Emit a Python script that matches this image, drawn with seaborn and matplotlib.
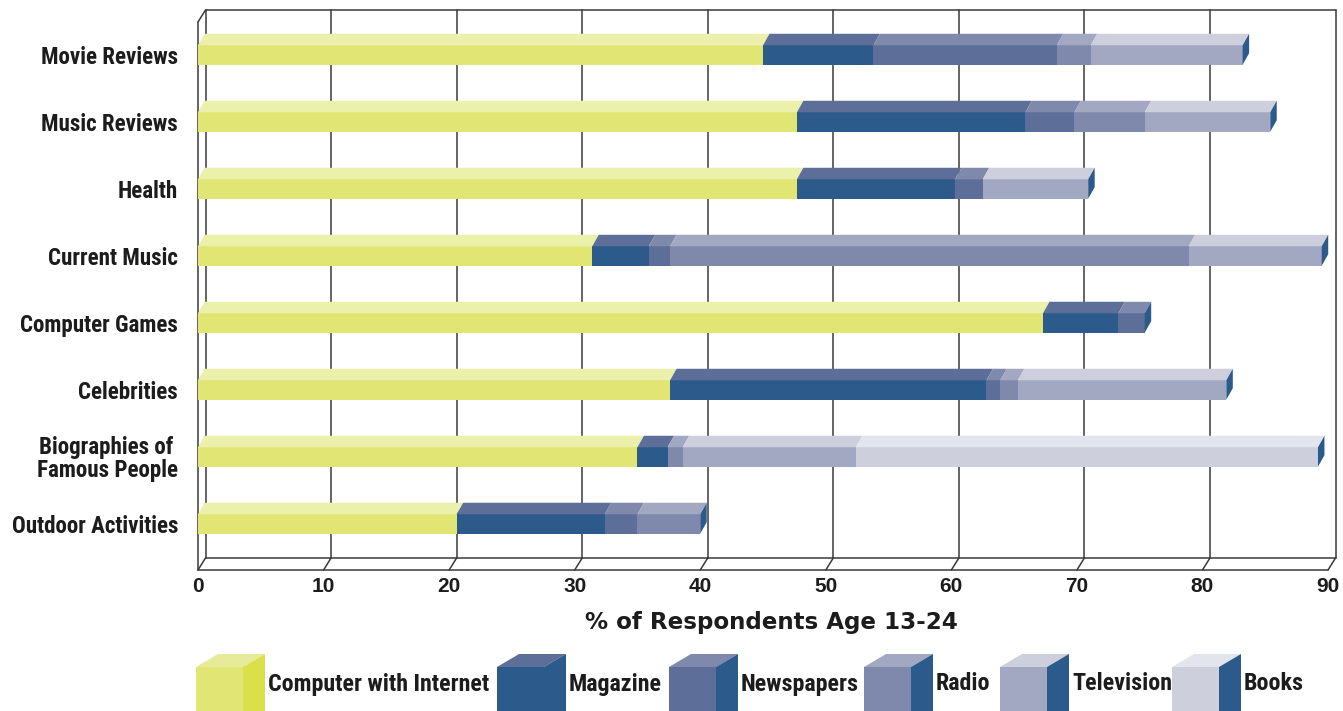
import numpy as np
import pandas as pd
import matplotlib
matplotlib.use("Agg")
import matplotlib.pyplot as plt
import seaborn as sns
from matplotlib.patches import Polygon
from matplotlib.lines import Line2D
from matplotlib import font_manager as fm

# ---------------- data ----------------
categories = ["Movie Reviews", "Music Reviews", "Health", "Current Music",
              "Computer Games", "Celebrities", "Biographies of \nFamous People",
              "Outdoor Activities"]
series_names = ["Computer with Internet", "Magazine", "Newspapers", "Radio",
                "Television", "Books"]
internet   = [45.0, 47.7, 47.7, 31.4, 67.3, 37.6, 35.0, 20.6]
magazine   = [8.8, 18.2, 12.6, 4.5, 6.0, 25.2, 2.4, 11.8]
newspapers = [14.6, 3.9, 2.2, 1.7, 2.1, 1.1, 0.0, 2.6]
radio      = [2.7, 5.6, 0.0, 41.3, 0.0, 1.4, 1.2, 5.0]
television = [12.1, 10.0, 8.4, 10.6, 0.0, 16.6, 13.8, 0.0]
books      = [0.0, 0.0, 0.0, 0.0, 0.0, 0.0, 36.8, 0.0]
xticks = [0, 10, 20, 30, 40, 50, 60, 70, 80, 90]
xlabel = "% of Respondents Age 13-24"

# ---------------- styles ----------------
front_colors = ["#e1e573", "#2c5a8a", "#5d6f98", "#7f89ab", "#a2a7c2", "#cdcfdd"]
top_colors   = ["#ebf0ab", "#5d6f98", "#7f89ab", "#a2a7c2", "#cdcfdd", "#e2e5ee"]
cap_color = "#2c5a8a"
legend_side = ["#d9e04a", cap_color, cap_color, cap_color, cap_color, cap_color]
legend_top = ["#e6eb9a", "#5d6f98", "#7f89ab", "#a2a7c2", "#cdcfdd", "#e2e5ee"]
text_color = "#1c1c1c"
line_color = "#3a3a3a"

# pick a narrow bold font if one is installed
def _is_condensed(f):
    s = f.stretch
    if isinstance(s, str):
        return "condensed" in s
    try:
        return int(s) < 500
    except Exception:
        return False

names = {f.name for f in fm.fontManager.ttflist}
NARROW_FAMILY, NARROW_STRETCH = "Liberation Sans", "normal"
for cand in ["Liberation Sans Narrow", "Roboto Condensed", "Open Sans Condensed",
             "Noto Sans Condensed"]:
    if cand in names:
        NARROW_FAMILY = cand
        break
else:
    others = sorted(n for n in names if ("Condensed" in n or "Narrow" in n))
    if others:
        NARROW_FAMILY = others[0]
    else:
        cf = [f for f in fm.fontManager.ttflist if _is_condensed(f)]
        if cf:
            NARROW_FAMILY, NARROW_STRETCH = cf[0].name, "condensed"

sns.set_style("white")
plt.rcParams["font.family"] = [NARROW_FAMILY, "DejaVu Sans"]

W, H = 1343, 711
fig = plt.figure(figsize=(W / 100, H / 100), dpi=100)
renderer = fig.canvas.get_renderer()

def fit_size(text, target_px, base, limit, **kw):
    t = fig.text(0, 0, text, fontsize=base, **kw)
    w = t.get_window_extent(renderer).width
    t.remove()
    return min(limit, base * target_px / w)

NKW = dict(family=[NARROW_FAMILY, "DejaVu Sans"], fontstretch=NARROW_STRETCH,
           fontweight="bold")
cat_size = fit_size("Movie Reviews", 137, 16, 17, **NKW)
leg_size = fit_size("Computer with Internet", 221, 16.5, 17.5, **NKW)
tick_size = fit_size("10", 23, 14.5, 15.5, family=["Liberation Sans", "DejaVu Sans"],
                     fontweight="bold")
title_size = fit_size(xlabel, 373, 16, 17, family=["DejaVu Sans"], fontweight="heavy")

ax = fig.add_axes([198 / W, (H - 570) / H, 1130 / W, 548 / H])

values = np.array([internet, magazine, newspapers, radio, television, books]).T
cum = np.cumsum(values, axis=1)

BAR_W = 0.29
for i in reversed(range(len(series_names))):
    df = pd.DataFrame({"category": categories, "value": cum[:, i]})
    sns.barplot(data=df, x="value", y="category", orient="h", color=front_colors[i],
                saturation=1, width=BAR_W, errorbar=None, linewidth=0, ax=ax,
                zorder=1)

ax.set_xlim(0, 90)
y_bottom, y_top = 7.687, -0.4925
ax.set_ylim(y_bottom, y_top)
for s in ax.spines.values():
    s.set_visible(False)
ax.set_xlabel("")
ax.set_ylabel("")
ax.grid(False)

# pixel -> data conversion for 3D depth
p0 = ax.transData.transform((0, 0))
p1 = ax.transData.transform((1, 1))
sx = p1[0] - p0[0]
sy = p0[1] - p1[1]
bdx, bdy = 6.5 / sx, 11.5 / sy   # bar depth
wdx, wdy = 7.5 / sx, 12.0 / sy   # wall depth

# ---------------- 3D frame ----------------
def line(xs, ys, z=0.5):
    ax.add_line(Line2D(xs, ys, color=line_color, lw=1.1, zorder=z, clip_on=False))

for t in xticks:
    line([t + wdx, t + wdx], [y_bottom - wdy, y_top - wdy])          # back wall grid
    line([t, t + wdx], [y_bottom, y_bottom - wdy])                    # floor ticks
line([wdx, 90 + wdx], [y_bottom - wdy, y_bottom - wdy])               # back floor
line([wdx, 90 + wdx], [y_top - wdy, y_top - wdy])                     # top edge
line([0, 90], [y_bottom, y_bottom])                                   # front floor
line([0, 0], [y_bottom, y_top])                                       # left front
line([0, wdx], [y_top, y_top - wdy])                                  # left top link

# ---------------- bar tops and caps ----------------
for j in range(len(categories)):
    ytop = j - BAR_W / 2
    ybot = j + BAR_W / 2
    start = 0.0
    for i in range(len(series_names)):
        v = values[j, i]
        if v > 0:
            x0, x1 = start, start + v
            ax.add_patch(Polygon([(x0, ytop), (x1, ytop), (x1 + bdx, ytop - bdy),
                                  (x0 + bdx, ytop - bdy)], closed=True,
                                 facecolor=top_colors[i], edgecolor="none",
                                 clip_on=False, zorder=1.5))
            start = x1
    ax.add_patch(Polygon([(start, ytop), (start + bdx, ytop - bdy),
                          (start + bdx, ybot - bdy), (start, ybot)], closed=True,
                         facecolor=cap_color, edgecolor="none", clip_on=False,
                         zorder=1.5))

# ---------------- ticks ----------------
ax.set_xticks(xticks)
ax.set_xticklabels([str(t) for t in xticks], fontsize=tick_size, fontweight="bold",
                   family=["Liberation Sans", "DejaVu Sans"], color=text_color)
ax.tick_params(axis="x", length=0, pad=5)
ax.tick_params(axis="y", length=0, pad=14.4)
for lab in ax.get_yticklabels():
    lab.set_fontsize(cat_size)
    lab.set_fontweight("bold")
    lab.set_color(text_color)
    lab.set_linespacing(0.95)
    lab.set_family([NARROW_FAMILY, "DejaVu Sans"])
    lab.set_fontstretch(NARROW_STRETCH)

fig.text(771 / W, 1 - 623 / H, xlabel, ha="center", va="center", fontsize=title_size,
         fontweight="heavy", family=["DejaVu Sans"], color=text_color)

# ---------------- legend (3D cubes) ----------------
cube_x = [196, 497, 669, 864, 1000, 1172]
fw, sw, th = 47, 22, 13
ty = 667
def fp(x, y):
    return (x / W, 1 - y / H)
for i, name in enumerate(series_names):
    x = cube_x[i]
    fig.add_artist(Polygon([fp(x, ty), fp(x + fw, ty), fp(x + fw, H + 10), fp(x, H + 10)],
                           closed=True, facecolor=front_colors[i], edgecolor="none",
                           transform=fig.transFigure))
    fig.add_artist(Polygon([fp(x, ty), fp(x + fw, ty), fp(x + fw + sw, ty - th),
                            fp(x + sw, ty - th)], closed=True, facecolor=legend_top[i],
                           edgecolor="none", transform=fig.transFigure))
    fig.add_artist(Polygon([fp(x + fw, ty), fp(x + fw + sw, ty - th),
                            fp(x + fw + sw, H + 10), fp(x + fw, H + 10)], closed=True,
                           facecolor=legend_side[i], edgecolor="none",
                           transform=fig.transFigure))
    fig.text((x + fw + sw + 3) / W, 1 - 684 / H, name, ha="left", va="center",
             fontsize=leg_size, color=text_color, **NKW)

fig.savefig("out.png", dpi=100)
